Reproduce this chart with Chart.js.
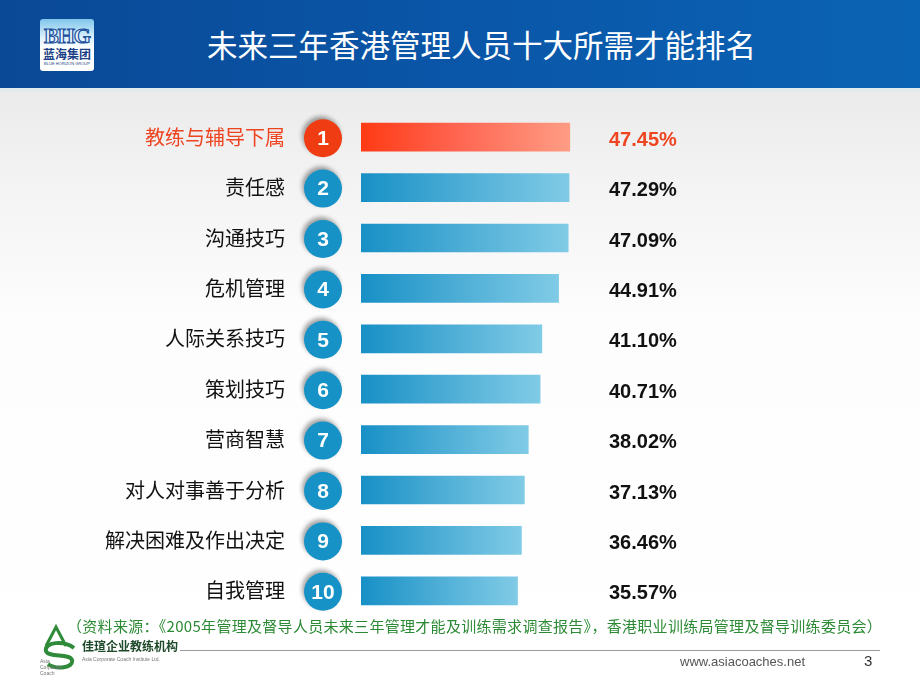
<!DOCTYPE html>
<html lang="zh-CN">
<head>
<meta charset="utf-8">
<title>未来三年香港管理人员十大所需才能排名</title>
<script src="https://cdn.jsdelivr.net/npm/chart.js@4.4.1/dist/chart.umd.min.js"></script>
<style>
    html, body { margin: 0; padding: 0; }
    body {
        width: 920px; height: 690px; position: relative; overflow: hidden;
        background: linear-gradient(#ebebeb 92px, #f3f3f3 180px, #fdfdfd 320px, #fff);
        font-family: "Noto Sans CJK SC", sans-serif;
    }
    #header {
        position: absolute; left: 0; top: 0; width: 920px; height: 88px;
        background: linear-gradient(90deg, #0a4996, #0a56a8 50%, #0b63b4);
        border-bottom: 4px solid #e2eaec;
    }
    #title {
        position: absolute; left: 207px; top: 28px; color: #fff;
        font-size: 30.5px; line-height: 32px; white-space: nowrap;
    }
    #logo {
        position: absolute; left: 40px; top: 19px; width: 54px; height: 52px;
        border-radius: 3px; text-align: center; overflow: hidden;
        background: linear-gradient(#7fc6ec, #d9f0fb 35%, #ffffff 55%);
    }
    #logo .bhg { font: bold 22px "Liberation Serif", serif; color: #e8f4fb; -webkit-text-stroke: 1.2px #1c4f9c; line-height: 22px; margin-top: 6px; letter-spacing: -1px; }
    #logo .cn { font-size: 12px; line-height: 14px; color: #1c3f86; font-weight: bold; }
    #logo .en { font: 4px "Liberation Sans", sans-serif; color: #1c3f86; line-height: 5px; }
    canvas { position: absolute; left: 0; top: 0; }
    #source {
        position: absolute; left: 67px; top: 616px; color: #2c8a34;
        font-size: 15px; line-height: 20px; white-space: nowrap; letter-spacing: 0.3px;
    }
    #rule { position: absolute; left: 180px; top: 650px; width: 700px; height: 1px; background: #9a9a9a; }
    #url { position: absolute; left: 680px; top: 654px; font: 13px "Liberation Sans", sans-serif; color: #555; }
    #page { position: absolute; left: 864px; top: 652px; font: 15px "Liberation Sans", sans-serif; color: #333; }
    #footlogo { position: absolute; left: 36px; top: 624px; }
    #footname { position: absolute; left: 82px; top: 639px; font-size: 12px; font-weight: bold; color: #1f4a2a; line-height: 14px; }
    #footen { position: absolute; left: 82px; top: 656px; font: 5px "Liberation Sans", sans-serif; color: #777; }
    #footsmall { position: absolute; left: 40px; top: 658px; font: 5px/6px "Liberation Sans", sans-serif; color: #777; }
</style>
</head>
<body>
<div id="header">
    <div id="logo">
        <div class="bhg">BHG</div>
        <div class="cn">蓝海集团</div>
        <div class="en">BLUE HORIZON GROUP</div>
    </div>
    <div id="title">未来三年香港管理人员十大所需才能排名</div>
</div>

<canvas id="grafico" width="920" height="690"></canvas>

<div id="source">（资料来源：《2005年管理及督导人员未来三年管理才能及训练需求调查报告》，香港职业训练局管理及督导训练委员会）</div>
<svg id="footlogo" width="44" height="46" viewBox="0 0 44 46">
    <path d="M10 22 L20 3 L30 22" fill="none" stroke="#2f8a3a" stroke-width="3"/>
    <path d="M38 24 C28 16 8 18 10 27 C12 34 34 29 36 36 C38 44 20 46 12 40" fill="none" stroke="#2f8a3a" stroke-width="4"/>
</svg>
<div id="footname">佳瑄企业教练机构</div>
<div id="footen">Asia Corporate Coach Institute Ltd.</div>
<div id="footsmall">Asia<br>Corporate<br>Coach</div>
<div id="rule"></div>
<div id="url">www.asiacoaches.net</div>
<div id="page">3</div>

<script>
// dados do gráfico
const categorias = ["教练与辅导下属", "责任感", "沟通技巧", "危机管理", "人际关系技巧",
    "策划技巧", "营商智慧", "对人对事善于分析", "解决困难及作出决定", "自我管理"];
const ranking = ["1", "2", "3", "4", "5", "6", "7", "8", "9", "10"];
const valores = [47.45, 47.29, 47.09, 44.91, 41.10, 40.71, 38.02, 37.13, 36.46, 35.57];
const rotulos = ["47.45%", "47.29%", "47.09%", "44.91%", "41.10%", "40.71%", "38.02%", "37.13%", "36.46%", "35.57%"];
const eixoX = [0, 50];

const VERMELHO = "#ee4420";

function corBarra(ctx) {
    const chart = ctx.chart;
    if (!chart.chartArea) return "#1a93c8";
    const xs = chart.scales.x;
    const x0 = xs.getPixelForValue(0);
    const x1 = xs.getPixelForValue(ctx.raw);
    const g = chart.ctx.createLinearGradient(x0, 0, x1, 0);
    if (ctx.dataIndex === 0) {
        g.addColorStop(0, "#ff3a14");
        g.addColorStop(0.45, "#ff6450");
        g.addColorStop(1, "#ff9c84");
    } else {
        g.addColorStop(0, "#1790c6");
        g.addColorStop(0.5, "#4eaed6");
        g.addColorStop(1, "#80cbe6");
    }
    return g;
}

// círculos numerados e porcentagens
const marcadores = {
    id: "marcadores",
    afterDatasetsDraw(chart) {
        const c = chart.ctx;
        const ys = chart.scales.y;
        c.save();
        ranking.forEach((r, i) => {
            const y = ys.getPixelForValue(i) + 1;
            const x = 323;
            c.save();
            c.shadowColor = "rgba(0,0,0,0.35)";
            c.shadowBlur = 4;
            c.shadowOffsetX = -2;
            c.shadowOffsetY = -3;
            c.beginPath();
            c.arc(x, y, 19, 0, Math.PI * 2);
            c.fillStyle = i === 0 ? "#f03c12" : "#1792c6";
            c.fill();
            c.restore();
            c.fillStyle = "#fff";
            c.font = "bold 21px 'Liberation Sans', Arial, sans-serif";
            c.textAlign = "center";
            c.textBaseline = "middle";
            c.fillText(r, x, y + 1);

            c.fillStyle = i === 0 ? VERMELHO : "#111";
            c.font = "bold 20px 'Liberation Sans', Arial, sans-serif";
            c.textAlign = "left";
            c.fillText(rotulos[i], 609, y + 2);
        });
        c.restore();
    }
};

const ctx = document.getElementById("grafico").getContext("2d");
new Chart(ctx, {
    type: "bar",
    data: {
        labels: categorias,
        datasets: [{
            data: valores,
            backgroundColor: corBarra,
            borderWidth: 0,
            barThickness: 28
        }]
    },
    options: {
        indexAxis: "y",
        responsive: false,
        animation: false,
        devicePixelRatio: 1,
        layout: { padding: { left: 0, right: 339, top: 112, bottom: 74 } },
        plugins: { legend: { display: false }, tooltip: { enabled: false } },
        scales: {
            x: { display: false, min: eixoX[0], max: eixoX[1] },
            y: {
                // largura fixa do eixo, sem o padding extra dos rótulos
                afterFit: s => { s.width = 361; s.paddingTop = 0; s.paddingBottom = 0; },
                grid: { display: false },
                border: { display: false },
                ticks: {
                    autoSkip: false,
                    padding: 68,
                    font: { family: "'Noto Sans CJK SC', sans-serif", size: 20 },
                    color: c => c.index === 0 ? VERMELHO : "#111"
                }
            }
        }
    },
    plugins: [marcadores]
});
</script>
</body>
</html>
